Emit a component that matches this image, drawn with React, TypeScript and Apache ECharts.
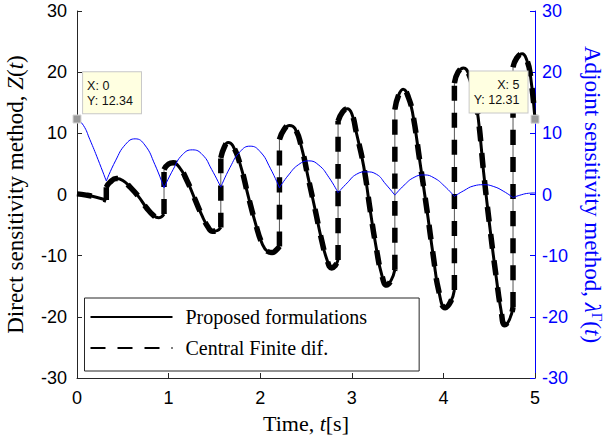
import React, { useEffect, useRef } from "react";
import * as echarts from "echarts";

// Direct sensitivity Z(t): piecewise segments between impacts [t, Z]
const zSeg0 = [[0, 0.1], [0.1, -0.1], [0.2, -0.4], [0.32, -0.9]];
const zSeg1 = [[0.32, 1.2], [0.36, 2.0], [0.43, 2.6], [0.5, 2.3], [0.58, 1.2], [0.67, -0.3], [0.76, -2.2], [0.84, -3.5], [0.89, -3.8], [0.95, -3.2]];
const zSeg2 = [[0.95, 4.1], [1.0, 5.0], [1.05, 5.2], [1.12, 4.4], [1.2, 2.3], [1.28, -0.5], [1.36, -3.3], [1.43, -5.3], [1.48, -6.0], [1.53, -5.9], [1.57, -5.4]];
const zSeg3 = [[1.57, 6.0], [1.61, 7.8], [1.65, 8.5], [1.7, 8.0], [1.78, 5.0], [1.87, -0.3], [1.95, -4.8], [2.02, -8.0], [2.08, -9.3], [2.13, -9.5], [2.18, -9.0], [2.21, -8.5]];
const zSeg4 = [[2.21, 9.0], [2.26, 10.6], [2.32, 11.3], [2.38, 10.8], [2.45, 7.8], [2.52, 3.0], [2.6, -2.5], [2.67, -7.4], [2.73, -10.7], [2.78, -12.0], [2.82, -11.6], [2.85, -10.7]];
const zSeg5 = [[2.85, 12.0], [2.9, 13.5], [2.95, 14.0], [3.0, 13.2], [3.05, 10.1], [3.13, 4.6], [3.2, -2.5], [3.27, -9.0], [3.33, -13.3], [3.38, -14.8], [3.43, -14.0], [3.47, -12.3]];
const zSeg6 = [[3.47, 13.9], [3.51, 16.2], [3.56, 17.2], [3.62, 15.8], [3.67, 12.8], [3.74, 5.7], [3.82, -2.5], [3.89, -10.1], [3.95, -15.8], [4.02, -18.5], [4.08, -17.5], [4.12, -15.6]];
const zSeg7 = [[4.12, 18.2], [4.16, 20.0], [4.22, 20.7], [4.28, 19.6], [4.33, 17.0], [4.38, 12.5], [4.44, 3.5], [4.51, -5.7], [4.58, -13.9], [4.63, -19.0], [4.67, -21.3], [4.72, -20.5], [4.76, -18.4]];
const zSeg8 = [[4.76, 20.8], [4.8, 22.3], [4.86, 23.0], [4.91, 22.0], [4.95, 19.5], [5.0, 12.31]];
const zSegments = [zSeg0, zSeg1, zSeg2, zSeg3, zSeg4, zSeg5, zSeg6, zSeg7, zSeg8];

// Adjoint sensitivity lambda(t): one hump between consecutive impacts
const lamHump0 = [[0, 12.34], [0.07, 11.3], [0.14, 9.0], [0.23, 5.7], [0.32, 2.2]];
const lamHump1 = [[0.32, 2.2], [0.42, 5.5], [0.53, 8.2], [0.635, 9.1], [0.74, 8.1], [0.85, 4.9], [0.95, 1.1]];
const lamHump2 = [[0.95, 1.1], [1.05, 4.1], [1.15, 6.5], [1.26, 7.3], [1.37, 6.5], [1.47, 4.1], [1.57, 1.2]];
const lamHump3 = [[1.57, 1.2], [1.67, 4.4], [1.78, 7.0], [1.89, 7.9], [2.0, 7.0], [2.11, 4.3], [2.21, 1.1]];
const lamHump4 = [[2.21, 1.1], [2.31, 3.2], [2.42, 4.9], [2.53, 5.5], [2.64, 4.8], [2.75, 2.8], [2.85, 0.3]];
const lamHump5 = [[2.85, 0.3], [2.95, 1.9], [3.05, 3.3], [3.16, 3.7], [3.27, 3.3], [3.37, 1.7], [3.47, -0.1]];
const lamHump6 = [[3.47, -0.1], [3.57, 1.5], [3.68, 2.8], [3.79, 3.2], [3.9, 2.7], [4.01, 1.4], [4.12, -0.3]];
const lamHump7 = [[4.12, -0.3], [4.22, 0.6], [4.33, 1.4], [4.44, 1.6], [4.55, 1.3], [4.66, 0.5], [4.76, -0.5]];
const lamHump8 = [[4.76, -0.5], [4.85, -0.05], [4.93, 0.2], [5.0, 0.25]];
const lamHumps = [lamHump0, lamHump1, lamHump2, lamHump3, lamHump4, lamHump5, lamHump6, lamHump7, lamHump8];

const dataTip1 = [0, 12.34];
const dataTip2 = [5, 12.31];

const xTicks = { min: 0, max: 5, interval: 1 };
const yTicks = { min: -30, max: 30, interval: 10 };

const SERIF = "'Liberation Serif', 'Times New Roman', serif";
const SANS = "'Liberation Sans', Arial, Helvetica, sans-serif";
const BLUE = "#0000ff";
const AXIS = "#262626";

function buildData() {
  const solid: any[] = [];
  const dashed: any[] = [];
  const jumps: any[] = [];
  zSegments.forEach((seg, i) => {
    if (i > 0) {
      const prev = zSegments[i - 1];
      const a = prev[prev.length - 1];
      const b = seg[0];
      const vert = [[a[0], a[1]], [b[0], b[1]]];
      dashed.push([a[0], null], ...vert, [a[0], null]);
      jumps.push(...vert, [a[0], null]);
      solid.push([a[0], null]);
    }
    solid.push(...seg);
    dashed.push(...seg);
  });
  return { solid, dashed, jumps };
}

function tipLabel(p: number[], align: string, pos: number[]) {
  return {
    show: true,
    formatter: `X: ${p[0]}\nY: ${p[1]}`,
    position: pos,
    align,
    verticalAlign: "top",
    backgroundColor: "#ffffe1",
    borderColor: "#c8c8c8",
    borderWidth: 1,
    padding: [6, 8, 5, 4],
    color: "#111",
    fontFamily: SANS,
    fontSize: 12.5,
    lineHeight: 15,
  };
}

const tipMarkStyle = { color: "#9a9a9a", borderColor: "#d6d6d6", borderWidth: 1 };

export default function App() {
  const ref = useRef<HTMLDivElement>(null);
  useEffect(() => {
    document.body.style.margin = "0";
    const chart = echarts.init(ref.current!, null, { renderer: "svg" });
    const { solid, dashed, jumps } = buildData();
    const lamSeries = lamHumps.map((h, i) => ({
      name: "adjoint" + i,
      type: "line",
      yAxisIndex: 1,
      data: h,
      smooth: 0.5,
      symbol: "none",
      lineStyle: { color: BLUE, width: 1 },
      z: 5,
      silent: true,
      ...(i === 0
        ? {
            markPoint: {
              symbol: "rect",
              symbolSize: 8,
              itemStyle: tipMarkStyle,
              data: [{ coord: dataTip1, label: tipLabel(dataTip1, "left", [10.6, -42.3]) }],
              z: 10,
            },
          }
        : {}),
    }));
    chart.setOption({
      animation: false,
      backgroundColor: "#fff",
      grid: { left: 77, right: 70, top: 11, bottom: 63, containLabel: false, outerBoundsMode: "none" },
      xAxis: {
        type: "value",
        ...xTicks,
        axisLine: { show: true, onZero: false, lineStyle: { color: AXIS, width: 1 } },
        axisTick: { show: true, inside: true, length: 5, lineStyle: { color: AXIS } },
        axisLabel: { fontFamily: SANS, fontSize: 18, color: "#000", margin: 11 },
        splitLine: { show: false },
        name: "Time, {i|t}[s]",
        nameLocation: "middle",
        nameGap: 34,
        nameTextStyle: {
          fontFamily: SERIF, fontSize: 22, color: "#000",
          rich: { i: { fontFamily: SERIF, fontSize: 22, fontStyle: "italic", color: "#000" } },
        },
      },
      yAxis: [
        {
          type: "value",
          position: "left",
          ...yTicks,
          axisLine: { show: true, onZero: false, lineStyle: { color: AXIS, width: 1 } },
          axisTick: { show: true, inside: true, length: 5, lineStyle: { color: AXIS } },
          axisLabel: { fontFamily: SANS, fontSize: 18, color: "#000", margin: 10 },
          splitLine: { show: false },
          name: "Direct sensitivity method, {i|Z}({i|t})",
          nameLocation: "middle",
          nameRotate: 90,
          nameGap: 50,
          nameTextStyle: {
            fontFamily: SERIF, fontSize: 23, color: "#000",
            rich: { i: { fontFamily: SERIF, fontSize: 23, fontStyle: "italic", color: "#000" } },
          },
        },
        {
          type: "value",
          position: "right",
          ...yTicks,
          axisLine: { show: true, onZero: false, lineStyle: { color: BLUE, width: 1 } },
          axisTick: { show: true, inside: true, length: 5, lineStyle: { color: BLUE } },
          axisLabel: { fontFamily: SANS, fontSize: 18, color: BLUE, margin: 7 },
          splitLine: { show: false },
          name: "Adjoint sensitivity method, {i|λ}{s|Γ}({i|t})",
          nameLocation: "middle",
          nameRotate: -90,
          nameGap: 45,
          nameTextStyle: {
            fontFamily: SERIF, fontSize: 23, color: BLUE,
            rich: {
              i: { fontFamily: SERIF, fontSize: 23, fontStyle: "italic", color: BLUE },
              s: { fontFamily: SERIF, fontSize: 15, color: BLUE, verticalAlign: "top", padding: [0, 0, 9, 0] },
            },
          },
        },
      ],
      legend: {
        data: ["Proposed formulations", "Central Finite dif."],
        orient: "vertical",
        left: 84.5,
        top: 298,
        itemWidth: 82,
        itemHeight: 14,
        itemGap: 11,
        padding: [9, 52, 13, 5],
        backgroundColor: "#fff",
        borderColor: AXIS,
        borderWidth: 1,
        borderRadius: 0,
        itemStyle: { opacity: 0 },
        textStyle: { fontFamily: SERIF, fontSize: 20, color: "#000", padding: [0, 0, 0, 8] },
      },
      series: [
        {
          name: "jumps",
          type: "line",
          data: jumps,
          symbol: "none",
          lineStyle: { color: "#555", width: 1 },
          silent: true,
          z: 2,
        },
        {
          name: "Proposed formulations",
          type: "line",
          data: solid,
          smooth: 0.5,
          symbol: "none",
          connectNulls: false,
          lineStyle: { color: "#000", width: 3 },
          itemStyle: { color: "#000" },
          z: 3,
          markPoint: {
            symbol: "rect",
            symbolSize: 8,
            itemStyle: tipMarkStyle,
            data: [{ coord: dataTip2, label: tipLabel(dataTip2, "right", [-3, -43.3]) }],
            z: 10,
          },
        },
        {
          name: "Central Finite dif.",
          type: "line",
          data: dashed,
          smooth: 0.5,
          symbol: "none",
          connectNulls: false,
          lineStyle: { color: "#000", width: 5.5, type: [15, 12] },
          itemStyle: { color: "#000" },
          z: 4,
        },
        ...lamSeries,
      ],
    });
    return () => chart.dispose();
  }, []);
  return (
    <div
      ref={ref}
      style={{ position: "absolute", left: 0, top: 0, width: 605, height: 441 }}
    />
  );
}
